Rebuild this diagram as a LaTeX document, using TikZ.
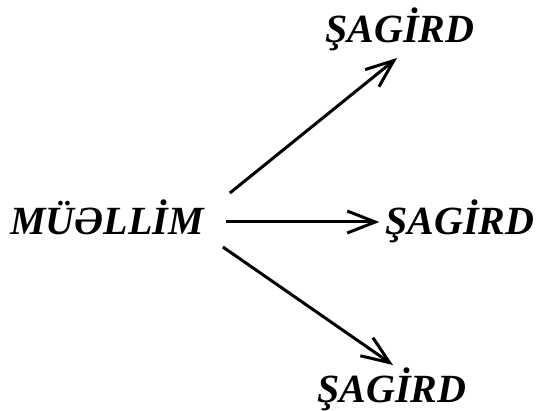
\documentclass[tikz,border=0pt]{standalone}
\usepackage{fontspec}
\setmainfont{Liberation Serif}[
	BoldFont={Liberation Serif Bold},
	ItalicFont={Liberation Serif Italic},
	BoldItalicFont={Liberation Serif Bold Italic}]
\usetikzlibrary{arrows.meta}

\begin{document}
\begin{tikzpicture}[x=1pt,y=1pt,
	word/.style={inner sep=0pt,anchor=base,font=\fontsize{40}{48}\selectfont\bfseries\itshape},
	arr/.style={line width=3pt,-{Straight Barb[length=28pt,width=22pt,line width=3pt]}}]

	\useasboundingbox (0,0) rectangle (538,410);

	\node[word] (teacher) at (107,175) {MÜƏLLİM};
	\node[word] (pupilA) at (400,367) {ŞAGİRD};
	\node[word] (pupilB) at (460,175) {ŞAGİRD};
	\node[word] (pupilC) at (392,8) {ŞAGİRD};

	% arrows start a little right of the teacher
	\draw[arr] ([shift={(26,42)}]teacher.base east) -- ([shift={(-3,-15)}]pupilA.base);
	\draw[arr] ([shift={(22,13)}]teacher.base east) -- ([shift={(-6,13)}]pupilB.base west);
	\draw[arr] ([shift={(19,-12)}]teacher.base east) -- ([shift={(1,37)}]pupilC.base);

\end{tikzpicture}
\end{document}
